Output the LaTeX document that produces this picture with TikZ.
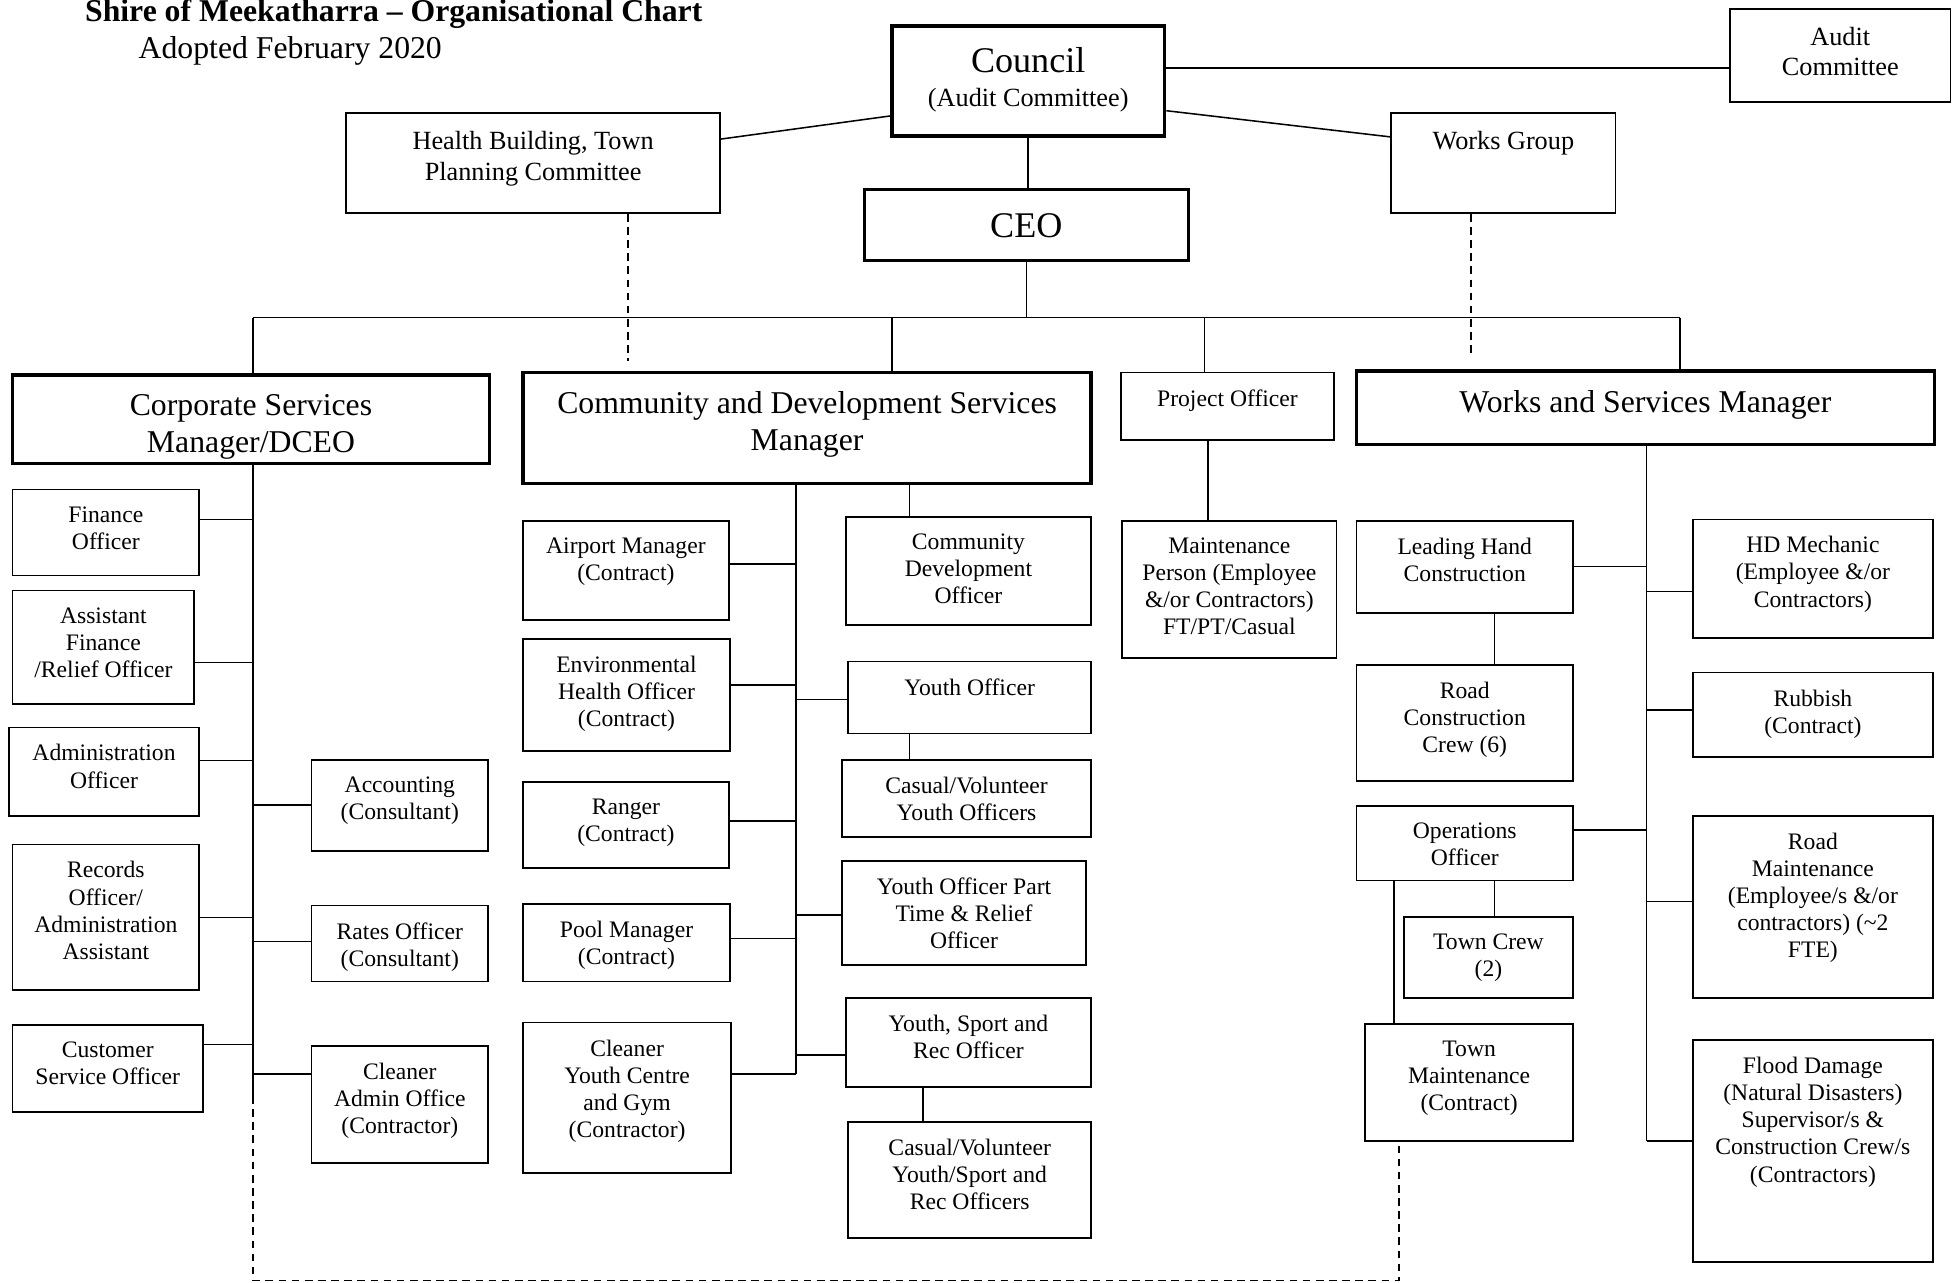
\documentclass[tikz,border=0pt]{standalone}
\usepackage{fontspec}
\setmainfont{Liberation Serif}
\usetikzlibrary{fit}
\begin{document}
\begin{tikzpicture}[x=0.02cm,y=-0.02cm,
  box/.style={draw,line width=0.8pt,inner sep=0pt},
  head/.style={draw,line width=1.6pt,inner sep=0pt},
  txt/.style={anchor=north,align=center,inner xsep=2pt,inner ysep=8pt,font=\fontsize{10.8}{12.4}\selectfont},
  mid/.style={txt,inner ysep=8.6pt,font=\fontsize{12}{14}\selectfont},
  big/.style={txt,inner ysep=9.4pt,font=\fontsize{14.5}{17}\selectfont},
  link/.style={line width=0.7pt},
  dashline/.style={line width=0.7pt,dash pattern=on 3.5pt off 2.5pt}]
\useasboundingbox (0,0) rectangle (1568,1030);
% title
\node[anchor=base west,inner sep=0pt,font=\fontsize{14.5}{17}\selectfont\bfseries] (title) at (68,17.5) {Shire of Meekatharra \textendash{} Organisational Chart};
\node[anchor=base west,inner sep=0pt,font=\fontsize{14.5}{17}\selectfont] (adopted) at (111,47) {Adopted February 2020};
% top level
\node[head,fit={(716,21) (935,109)},label={[mid,inner ysep=10.4pt]north:{{\fontsize{16.5}{18}\selectfont Council}\\[1.5pt](Audit Committee)}}] (council) {};
\node[box,fit={(1389,7) (1566,82)},label={[mid]north:{Audit\\Committee}}] (audit) {};
\node[box,fit={(278,91) (578,171)},label={[mid]north:{Health Building, Town\\Planning Committee}}] (health) {};
\node[box,fit={(1117,91) (1297,171)},label={[mid]north:{Works Group}}] (wgroup) {};
\node[head,fit={(694,152) (954,209)},label={[txt,inner ysep=11.7pt,font=\fontsize{16.5}{18}\selectfont]north:{CEO}}] (ceo) {};
% managers
\node[head,fit={(10,301) (393,372)},label={[big]north:{Corporate Services\\Manager/DCEO}}] (csm) {};
\node[head,fit={(420,299) (876,388)},label={[big]north:{Community and Development Services\\Manager}}] (cdsm) {};
\node[box,fit={(900,299) (1071,353)},label={[txt]north:{Project Officer}}] (proj) {};
\node[head,fit={(1089,298) (1553,357)},label={[big]north:{Works and Services Manager}}] (wsm) {};
% corporate services
\node[box,fit={(10,393) (160,462)},label={[txt]north:{Finance\\Officer}}] (fin) {};
\node[box,fit={(10,474) (156,565)},label={[txt]north:{Assistant\\Finance\\/Relief Officer}}] (afin) {};
\node[box,fit={(7,584) (160,655)},label={[txt]north:{Administration\\Officer}}] (adm) {};
\node[box,fit={(10,678) (160,795)},label={[txt]north:{Records\\Officer/\\Administration\\Assistant}}] (rec) {};
\node[box,fit={(10,823) (163,893)},label={[txt]north:{Customer\\Service Officer}}] (cust) {};
\node[box,fit={(250,610) (392,683)},label={[txt]north:{Accounting\\(Consultant)}}] (acc) {};
\node[box,fit={(250,727) (392,788)},label={[txt]north:{Rates Officer\\(Consultant)}}] (rates) {};
\node[box,fit={(250,840) (392,934)},label={[txt]north:{Cleaner\\Admin Office\\(Contractor)}}] (cadm) {};
% community and development
\node[box,fit={(420,418) (585,498)},label={[txt]north:{Airport Manager\\(Contract)}}] (air) {};
\node[box,fit={(420,513) (586,603)},label={[txt]north:{Environmental\\Health Officer\\(Contract)}}] (env) {};
\node[box,fit={(420,628) (585,697)},label={[txt]north:{Ranger\\(Contract)}}] (ranger) {};
\node[box,fit={(420,726) (586,788)},label={[txt]north:{Pool Manager\\(Contract)}}] (pool) {};
\node[box,fit={(420,821) (587,942)},label={[txt]north:{Cleaner\\Youth Centre\\and Gym\\(Contractor)}}] (cyc) {};
\node[box,fit={(679,415) (876,502)},label={[txt]north:{Community\\Development\\Officer}}] (cdo) {};
\node[box,fit={(681,531) (876,589)},label={[txt]north:{Youth Officer}}] (youth) {};
\node[box,fit={(676,610) (876,672)},label={[txt]north:{Casual/Volunteer\\Youth Officers}}] (cyouth) {};
\node[box,fit={(676,691) (872,775)},label={[txt]north:{Youth Officer Part\\Time \& Relief\\Officer}}] (yopt) {};
\node[box,fit={(679,801) (876,873)},label={[txt]north:{Youth, Sport and\\Rec Officer}}] (ysr) {};
\node[box,fit={(681,901) (876,994)},label={[txt]north:{Casual/Volunteer\\Youth/Sport and\\Rec Officers}}] (cysr) {};
% project
\node[box,fit={(901,418) (1073,528)},label={[txt]north:{Maintenance\\Person (Employee\\\&/or Contractors)\\FT/PT/Casual}}] (maint) {};
% works and services
\node[box,fit={(1089,418) (1263,492)},label={[txt]north:{Leading Hand\\Construction}}] (lhc) {};
\node[box,fit={(1089,534) (1263,627)},label={[txt]north:{Road\\Construction\\Crew (6)}}] (rcc) {};
\node[box,fit={(1089,647) (1263,707)},label={[txt]north:{Operations\\Officer}}] (ops) {};
\node[box,fit={(1127,736) (1263,801)},label={[txt]north:{Town Crew\\(2)}}] (tcrew) {};
\node[box,fit={(1096,822) (1263,916)},label={[txt]north:{Town\\Maintenance\\(Contract)}}] (tmaint) {};
\node[box,fit={(1359,417) (1552,512)},label={[txt]north:{HD Mechanic\\(Employee \&/or\\Contractors)}}] (hd) {};
\node[box,fit={(1359,540) (1552,608)},label={[txt]north:{Rubbish\\(Contract)}}] (rub) {};
\node[box,fit={(1359,655) (1552,801)},label={[txt]north:{Road\\Maintenance\\(Employee/s \&/or\\contractors) (\textasciitilde2\\FTE)}}] (roadm) {};
\node[box,fit={(1359,835) (1552,1013)},label={[txt]north:{Flood Damage\\(Natural Disasters)\\Supervisor/s \&\\Construction Crew/s\\(Contractors)}}] (flood) {};
% top connectors
\draw[link] ([yshift=6pt]council.east) -- ([yshift=6pt]council.east -| audit.west);
\draw[link] ([yshift=-16pt]council.west) -- ([yshift=11pt]health.east);
\draw[link] ([yshift=-13.6pt]council.east) -- ([yshift=12pt]wgroup.west);
\draw[link] (council.south) -- (council.south |- ceo.north);
\coordinate (bus) at (824,255);
\coordinate (busL) at (203,255);
\coordinate (busR) at (1349,255);
\coordinate (d2) at (716,255);
\coordinate (d3) at (967,255);
\draw[link] (ceo.south) -- (ceo.south |- bus);
\draw[link] (busL) -- (busR);
\draw[link] (busL) -- (busL |- csm.north);
\draw[link] (d2) -- (d2 |- cdsm.north);
\draw[link] (d3) -- (d3 |- proj.north);
\draw[link] (busR) -- (busR |- wsm.north);
\coordinate (hdash) at (504,290);
\coordinate (wdash) at (1181,286);
\draw[dashline] (hdash |- health.south) -- (hdash);
\draw[dashline] (wdash |- wgroup.south) -- (wdash);
% corporate spine
\coordinate (cspine) at (203,880);
\draw[link] (cspine |- csm.south) -- (cspine);
\foreach \n/\dy in {fin/6,afin/-7,adm/5,rec/0,cust/11}
  \draw[link] ([yshift=\dy pt]\n.east) -- ([yshift=\dy pt]\n.east -| cspine);
\foreach \n/\dy in {acc/0,rates/1,cadm/14}
  \draw[link] ([yshift=\dy pt]\n.west) -- ([yshift=\dy pt]\n.west -| cspine);
\coordinate (dcorner) at (1123,1028);
\draw[dashline] (cspine) |- (dcorner) -- (dcorner |- tmaint.south);
% community spine
\coordinate (mspine) at (639,862);
\draw[link] (mspine |- cdsm.south) -- (mspine);
\foreach \n/\dy in {air/3,env/4.5,ranger/2,pool/2,cyc/11}
  \draw[link] ([yshift=\dy pt]\n.east) -- ([yshift=\dy pt]\n.east -| mspine);
\foreach \n/\dy in {youth/-1,yopt/-1,ysr/-5.7}
  \draw[link] ([yshift=\dy pt]\n.west) -- ([yshift=\dy pt]\n.west -| mspine);
\draw[link] ([xshift=-27pt]cdo.north) -- ([xshift=-27pt]cdo.north |- cdsm.south);
\draw[link] ([xshift=-27.5pt]youth.south) -- ([xshift=-27.5pt]youth.south |- cyouth.north);
\draw[link] ([xshift=-20.7pt]ysr.south) -- ([xshift=-20.7pt]ysr.south |- cysr.north);
% project
\draw[link] ([xshift=-9pt]proj.south) -- ([xshift=-9pt]proj.south |- maint.north);
% works spine
\coordinate (wspine) at (1322,916);
\draw[link] (wspine |- wsm.south) -- (wspine);
\foreach \n/\dy in {lhc/0,ops/6}
  \draw[link] ([yshift=\dy pt]\n.east) -- ([yshift=\dy pt]\n.east -| wspine);
\foreach \n/\dy in {hd/-6,rub/2.3,roadm/2.3,flood/4.5}
  \draw[link] ([yshift=\dy pt]\n.west) -- ([yshift=\dy pt]\n.west -| wspine);
\draw[link] ([xshift=13.6pt]lhc.south) -- ([xshift=13.6pt]lhc.south |- rcc.north);
\draw[link] ([xshift=13.6pt]ops.south) -- ([xshift=13.6pt]ops.south |- tcrew.north);
\draw[link] ([xshift=-32.3pt]ops.south) -- ([xshift=-32.3pt]ops.south |- tmaint.north);
\end{tikzpicture}
\end{document}
